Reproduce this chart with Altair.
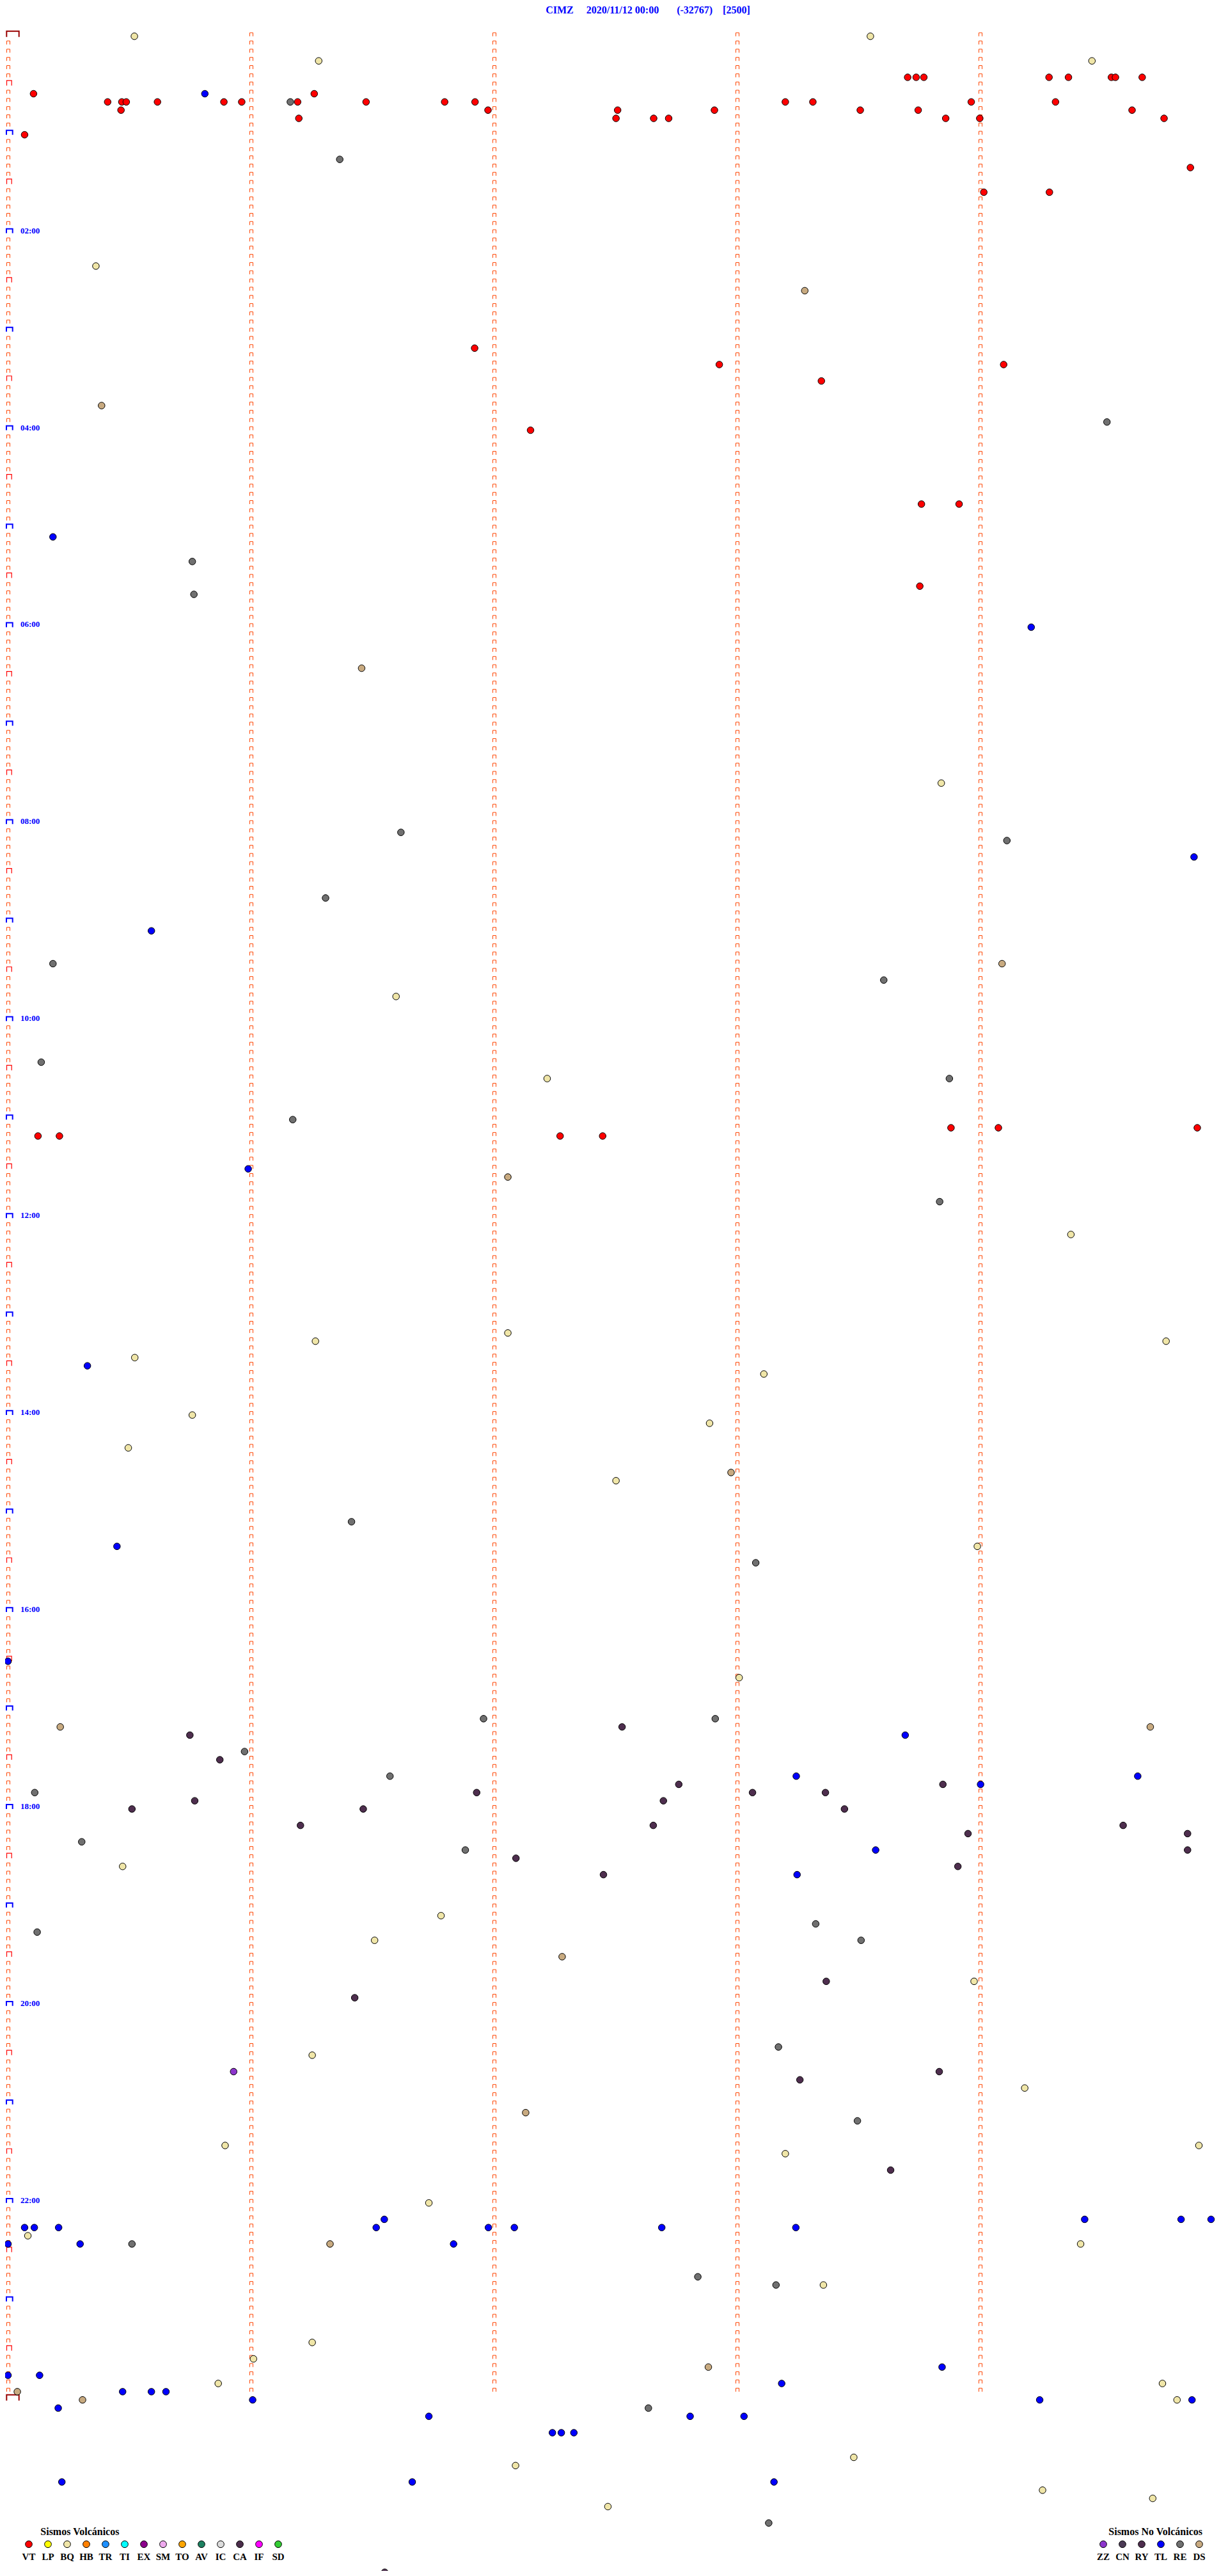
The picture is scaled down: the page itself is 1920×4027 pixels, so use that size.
import altair as alt
import pandas as pd

NB = "\u00a0"
station = "CIMZ"
start_time = "2020/11/12 00:00"
clip_value = "(-32767)"
gain_value = "[2500]"
title_text = station + NB * 5 + start_time + NB * 7 + clip_value + NB * 4 + gain_value

N_LINES = 288          # 5-minute lines in 24 h
MINUTE_MARKS = [0, 60, 120, 180, 240]   # seconds into each line

volc_codes = ["VT", "LP", "BQ", "HB", "TR", "TI", "EX", "SM", "TO", "AV", "IC", "CA", "IF", "SD"]
volc_colors = ["#FF0000", "#FFFF00", "#F0E6A8", "#FF8000", "#1E90FF", "#00FFFF", "#8B008B",
               "#EEAAEE", "#FFA500", "#1E8060", "#DCDCDC", "#4B2D4B", "#FF00FF", "#33CC33"]
nonv_codes = ["ZZ", "CN", "RY", "TL", "RE", "DS"]
nonv_colors = ["#8C35CC", "#4B3A55", "#4E2E4E", "#0000FF", "#707070", "#C8AA80"]

# events: (line index, seconds into line)
VT_events = [
    (5, 222.1), (5, 224.2), (5, 226.1), (5, 257.0), (5, 261.8), (5, 272.4), (5, 273.4), (5, 280.0),
    (7, 6.3), (7, 75.6),
    (8, 24.6), (8, 28.1), (8, 29.2), (8, 36.9), (8, 53.3), (8, 57.7), (8, 71.5), (8, 88.4),
    (8, 107.8), (8, 115.3), (8, 191.9), (8, 198.7), (8, 237.8), (8, 258.6),
    (9, 27.9), (9, 118.5), (9, 150.5), (9, 174.4), (9, 210.4), (9, 224.7), (9, 277.5),
    (10, 71.8), (10, 150.1), (10, 159.4), (10, 163.1), (10, 231.5), (10, 239.9), (10, 285.4),
    (12, 4.1), (16, 291.9), (19, 240.9), (19, 257.1),
    (38, 115.2), (40, 175.6), (40, 245.8), (42, 200.8), (48, 129.0), (57, 225.5), (57, 234.8),
    (67, 225.1),
    (133, 232.8), (133, 244.5), (133, 293.6), (134, 7.4), (134, 12.7), (134, 136.3), (134, 146.8),
]
BQ_events = [
    (0, 31.2), (0, 212.9), (3, 76.7), (3, 267.6), (28, 21.7), (91, 230.4), (117, 95.8), (127, 133.1),
    (146, 262.4), (158, 123.4), (159, 75.9), (159, 285.9), (161, 31.3), (163, 186.6), (168, 45.5),
    (169, 173.2), (172, 29.7), (176, 150.1), (184, 239.3), (200, 180.5), (223, 28.3), (229, 106.9),
    (232, 90.5), (237, 238.5), (246, 75.1), (250, 251.0), (257, 53.6), (257, 294.0), (258, 191.9),
    (264, 103.9), (268, 4.9), (269, 264.8), (274, 201.3), (281, 75.1), (283, 60.6), (286, 51.9),
    (286, 285.0), (288, 288.6), (295, 208.8), (296, 125.3), (299, 255.4), (300, 282.6), (301, 148.1),
]
DS_events = [
    (31, 196.7), (45, 23.1), (77, 87.3), (113, 245.4), (139, 123.4), (175, 178.5), (206, 12.9),
    (206, 282.0), (234, 136.8), (253, 127.8), (269, 79.5), (284, 172.9), (287, 2.3), (288, 18.4),
]
RE_events = [
    (8, 69.7), (15, 81.9), (47, 271.3), (64, 45.5), (68, 45.9), (97, 97.0), (98, 246.6), (105, 78.4),
    (113, 11.1), (115, 216.2), (125, 8.2), (127, 232.4), (132, 70.3), (142, 230.0), (181, 84.8),
    (186, 184.6), (205, 117.4), (205, 174.6), (209, 58.4), (212, 94.3), (214, 6.6), (220, 18.2),
    (221, 112.9), (230, 199.4), (231, 7.2), (232, 210.6), (245, 190.2), (254, 209.7), (269, 30.6),
    (273, 170.3), (274, 189.6), (289, 158.1), (303, 187.8),
]
TL_events = [
    (7, 48.6), (61, 11.1), (72, 252.6), (100, 292.8), (109, 35.4), (138, 59.3), (162, 19.6),
    (184, 26.9), (198, 0.0), (207, 221.5), (212, 194.6), (212, 278.9), (213, 240.1), (221, 214.2),
    (224, 194.8), (266, 92.9), (266, 265.8), (266, 289.6), (266, 297.0), (267, 4.1), (267, 6.5),
    (267, 12.5), (267, 90.9), (267, 118.6), (267, 125.0), (267, 161.4), (267, 194.5), (269, 0.0),
    (269, 17.8), (269, 110.0), (284, 230.6), (285, 0.0), (285, 7.8), (286, 191.0), (287, 28.3),
    (287, 35.4), (287, 39.0), (288, 60.4), (288, 254.7), (288, 292.3), (289, 12.4), (290, 103.9),
    (290, 168.4), (290, 181.7), (292, 134.4), (292, 136.6), (292, 139.7), (298, 13.3), (298, 99.8),
    (298, 189.1),
]
RY_events = [
    (206, 151.6), (207, 44.9), (210, 52.3), (213, 165.6), (213, 230.8), (214, 115.7), (214, 183.8),
    (214, 201.8), (215, 46.1), (215, 161.8), (216, 30.6), (216, 87.7), (216, 206.5), (218, 72.2),
    (218, 159.3), (218, 275.3), (219, 237.0), (219, 291.2), (221, 291.2), (222, 125.4), (223, 234.5),
    (224, 147.0), (237, 202.0), (239, 85.6), (248, 229.9), (249, 195.5), (260, 217.9), (309, 93.0),
]
ZZ_events = [(248, 55.7)]

# ---------- tables ----------
rows = []
for code, evs in [("RE", RE_events), ("DS", DS_events), ("BQ", BQ_events), ("RY", RY_events),
                  ("ZZ", ZZ_events), ("TL", TL_events), ("VT", VT_events)]:
    for ln, s in evs:
        rows.append({"line": ln, "sec": s, "code": code})
events = pd.DataFrame(rows)

tick_rows, half_rows, hour_rows = [], [], []
for ln in range(N_LINES):
    for s in MINUTE_MARKS:
        if s == 0 and ln % 6 == 0:
            if ln == 0:
                continue
            (hour_rows if ln % 12 == 0 else half_rows).append({"line": ln, "sec": s})
        else:
            tick_rows.append({"line": ln, "sec": s})
ticks = pd.DataFrame(tick_rows)
halves = pd.DataFrame(half_rows)
hours = pd.DataFrame(hour_rows)
ends = pd.DataFrame({"line": [0, N_LINES], "sec": [0, 0]})
hour_labels = pd.DataFrame({"line": list(range(24, N_LINES, 24)),
                            "label": [f"{h:02d}:00" for h in range(2, 24, 2)]})

# ---------- scales ----------
xs = alt.Scale(domain=[0, 300], range=[4.5, 1904.5], nice=False, zero=False)
ys = alt.Scale(domain=[0, N_LINES], range=[48.7, 3743.7], nice=False, zero=False)
X = alt.X("sec:Q", scale=xs, axis=None)
Y = alt.Y("line:Q", scale=ys, axis=None)
cscale = alt.Scale(domain=volc_codes + nonv_codes, range=volc_colors + nonv_colors)
FONT = "Liberation Serif"


def glyphs(df, path, color, sw):
    return alt.Chart(df).mark_point(shape=path, size=4, filled=False, color=color,
                                    strokeWidth=sw, opacity=1).encode(x=X, y=Y)


tick_layer = glyphs(ticks, "M -2 0 L -2 -5.5 L 3 -5.5 L 3 0", "#FF4500", 1)
half_layer = glyphs(halves, "M -2 0 L -2 -7.8 L 5.7 -7.8 L 5.7 0", "#FF0000", 1.2)
hour_layer = glyphs(hours, "M -2.5 0 L -2.5 -6.9 L 7.2 -6.9 L 7.2 0", "#0000FF", 2)
end_layer = glyphs(ends, "M -2.2 1 L -2.2 -8 L 17.2 -8 L 17.2 1", "#990000", 2)

label_layer = alt.Chart(hour_labels).mark_text(
    font=FONT, fontSize=13, fontWeight="bold", color="#0000FF", align="left", baseline="alphabetic"
).encode(x=alt.value(24), y=Y, text="label:N")

dot_layer = alt.Chart(events).mark_circle(size=110, stroke="black", strokeWidth=1, opacity=1).encode(
    x=X, y=Y, color=alt.Color("code:N", scale=cscale, legend=None)
)

title_layer = alt.Chart(pd.DataFrame({"t": [title_text]})).mark_text(
    font=FONT, fontSize=16, fontWeight="bold", color="#0000FF", align="center", baseline="alphabetic"
).encode(x=alt.value(1005), y=alt.value(12.5), text="t:N")


def legend(codes, xr, title, title_x):
    df = pd.DataFrame({"code": codes})
    lx = alt.X("code:N", sort=codes, scale=alt.Scale(type="point", domain=codes, range=xr, padding=0),
               axis=None)
    circ = alt.Chart(df).mark_circle(size=115, stroke="black", strokeWidth=1, opacity=1).encode(
        x=lx, y=alt.value(3969.3), color=alt.Color("code:N", scale=cscale, legend=None))
    lab = alt.Chart(df).mark_text(font=FONT, fontSize=15, fontWeight="bold", color="black",
                                  align="center", baseline="alphabetic").encode(
        x=lx, y=alt.value(3993.7), text="code:N")
    ttl = alt.Chart(pd.DataFrame({"t": [title]})).mark_text(
        font=FONT, fontSize=16, fontWeight="bold", color="black", align="left", baseline="alphabetic"
    ).encode(x=alt.value(title_x), y=alt.value(3954.7), text="t:N")
    return alt.layer(circ, lab, ttl)


volc_legend = legend(volc_codes, [37, 427], "Sismos Volcánicos", 55.3)
nonv_legend = legend(nonv_codes, [1717, 1867], "Sismos No Volcánicos", 1725.3)

chart = alt.layer(
    tick_layer, half_layer, hour_layer, end_layer, label_layer, dot_layer, title_layer,
    volc_legend, nonv_legend
).resolve_scale(x="independent").properties(
    width=1904, height=4011, padding=0, autosize=alt.AutoSizeParams(type="none"),
    background="white"
).configure_view(strokeWidth=0)

chart.save("out.html", embed_options={"renderer": "svg", "actions": False})
